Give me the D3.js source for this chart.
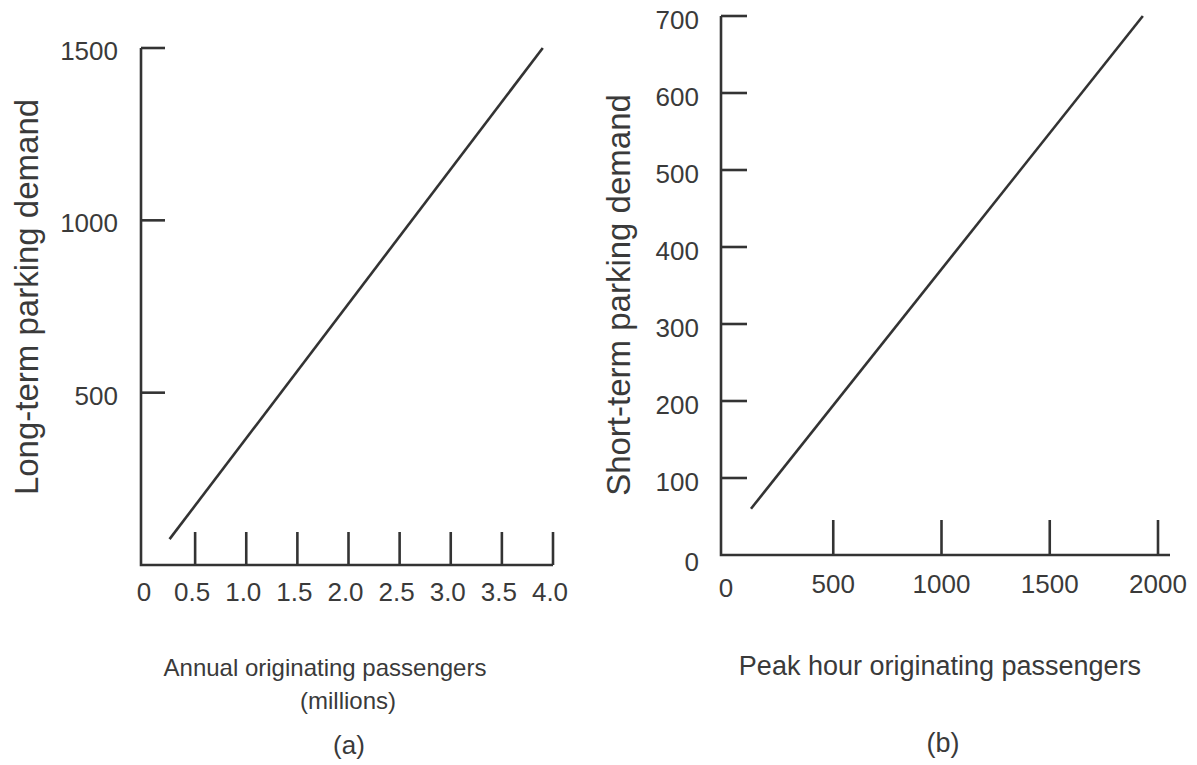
<!DOCTYPE html>
<html>
<head>
<meta charset="utf-8">
<script src="https://cdn.jsdelivr.net/npm/d3@7"></script>
<style>
  body { margin: 0; background: #fff; }
  svg text { font-family: "Liberation Sans", Arial, sans-serif; fill: #3a3a3a; }
</style>
</head>
<body>
<svg id="svg"></svg>
<script>
// chart (a): long-term parking
var aXTicks = [0.5, 1.0, 1.5, 2.0, 2.5, 3.0, 3.5, 4.0];
var aXLabels = ["0.5", "1.0", "1.5", "2.0", "2.5", "3.0", "3.5", "4.0"];
var aYTicks = [500, 1000, 1500];
var aLineX = [0.25, 3.9];
var aLineY = [75, 1500];

// chart (b): short-term parking
var bXTicks = [500, 1000, 1500, 2000];
var bYTicks = [100, 200, 300, 400, 500, 600, 700];
var bLineX = [120, 1930];
var bLineY = [60, 700];

const w = 1197;
const h = 765;
const ink = "#333";

const svg = d3.select("#svg")
  .attr("width", w)
  .attr("height", h);

// ---------- (a) ----------
const ax = d3.scaleLinear().domain([0, 4]).range([144, 553]);
const ay = d3.scaleLinear().domain([0, 1500]).range([565, 48]);

const ga = svg.append("g");

ga.append("path")
  .attr("d", "M" + 141 + "," + ay(1500) + "V" + ay(0) + "H" + ax(4.0))
  .attr("fill", "none").attr("stroke", ink).attr("stroke-width", 2.6);

ga.selectAll(".xt").data(aXTicks).enter().append("line")
  .attr("x1", d => ax(d)).attr("x2", d => ax(d))
  .attr("y1", ay(0)).attr("y2", ay(0) - 33)
  .attr("stroke", ink).attr("stroke-width", 2.6);

ga.selectAll(".yt").data(aYTicks).enter().append("line")
  .attr("x1", 141).attr("x2", 165)
  .attr("y1", d => ay(d)).attr("y2", d => ay(d))
  .attr("stroke", ink).attr("stroke-width", 2.6);

ga.selectAll(".xl").data(aXTicks).enter().append("text")
  .attr("x", d => ax(d) - 3).attr("y", 601)
  .attr("text-anchor", "middle").attr("font-size", 26)
  .text((d, i) => aXLabels[i]);

ga.append("text").attr("x", 144).attr("y", 601)
  .attr("text-anchor", "middle").attr("font-size", 26).text("0");

ga.selectAll(".yl").data(aYTicks).enter().append("text")
  .attr("x", 118).attr("y", d => ay(d) + 12)
  .attr("text-anchor", "end").attr("font-size", 26)
  .text(d => d);

ga.append("line")
  .attr("x1", ax(aLineX[0])).attr("y1", ay(aLineY[0]))
  .attr("x2", ax(aLineX[1])).attr("y2", ay(aLineY[1]))
  .attr("stroke", ink).attr("stroke-width", 2.6);

ga.append("text")
  .attr("transform", "translate(38,297) rotate(-90)")
  .attr("text-anchor", "middle").attr("font-size", 33)
  .text("Long-term parking demand");

ga.append("text").attr("x", 325).attr("y", 676)
  .attr("text-anchor", "middle").attr("font-size", 24)
  .text("Annual originating passengers");
ga.append("text").attr("x", 348).attr("y", 709)
  .attr("text-anchor", "middle").attr("font-size", 24)
  .text("(millions)");
ga.append("text").attr("x", 349).attr("y", 754)
  .attr("text-anchor", "middle").attr("font-size", 26)
  .text("(a)");

// ---------- (b) ----------
const bx = d3.scaleLinear().domain([0, 2000]).range([725, 1158]);
const by = d3.scaleLinear().domain([0, 700]).range([555, 16]);

const gb = svg.append("g");

gb.append("path")
  .attr("d", "M" + 721 + "," + by(700) + "V" + by(0) + "H" + 1170)
  .attr("fill", "none").attr("stroke", ink).attr("stroke-width", 2.6);

gb.selectAll(".xt").data(bXTicks).enter().append("line")
  .attr("x1", d => bx(d)).attr("x2", d => bx(d))
  .attr("y1", by(0)).attr("y2", by(0) - 35)
  .attr("stroke", ink).attr("stroke-width", 2.6);

gb.selectAll(".yt").data(bYTicks).enter().append("line")
  .attr("x1", 721).attr("x2", 747)
  .attr("y1", d => by(d)).attr("y2", d => by(d))
  .attr("stroke", ink).attr("stroke-width", 2.6);

gb.selectAll(".xl").data(bXTicks).enter().append("text")
  .attr("x", d => bx(d)).attr("y", 593)
  .attr("text-anchor", "middle").attr("font-size", 26)
  .text(d => d);

gb.append("text").attr("x", 726).attr("y", 597)
  .attr("text-anchor", "middle").attr("font-size", 26).text("0");

gb.selectAll(".yl").data(bYTicks).enter().append("text")
  .attr("x", 699).attr("y", d => by(d) + 13)
  .attr("text-anchor", "end").attr("font-size", 26)
  .text(d => d);

gb.append("text").attr("x", 699).attr("y", 571)
  .attr("text-anchor", "end").attr("font-size", 26).text("0");

gb.append("line")
  .attr("x1", bx(bLineX[0])).attr("y1", by(bLineY[0]))
  .attr("x2", bx(bLineX[1])).attr("y2", by(bLineY[1]))
  .attr("stroke", ink).attr("stroke-width", 2.6);

gb.append("text")
  .attr("transform", "translate(630,295) rotate(-90)")
  .attr("text-anchor", "middle").attr("font-size", 33)
  .text("Short-term parking demand");

gb.append("text").attr("x", 940).attr("y", 675)
  .attr("text-anchor", "middle").attr("font-size", 27)
  .text("Peak hour originating passengers");
gb.append("text").attr("x", 943).attr("y", 752)
  .attr("text-anchor", "middle").attr("font-size", 27)
  .text("(b)");
</script>
</body>
</html>
